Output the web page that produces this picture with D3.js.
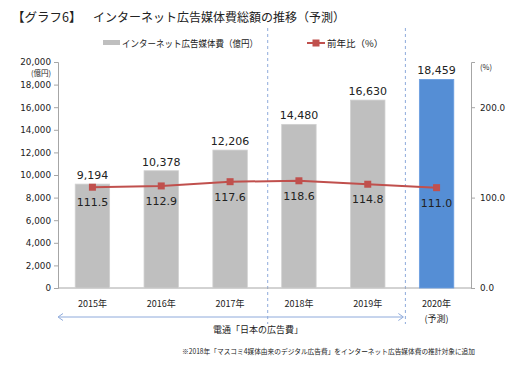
<!DOCTYPE html>
<html>
<head>
<meta charset="utf-8">
<script src="https://cdn.jsdelivr.net/npm/d3@7"></script>
<style>
body { margin: 0; background: #fff; }
text { font-family: "Noto Sans CJK JP", sans-serif; fill: #222; }
.num { font-family: "DejaVu Sans", sans-serif; }
</style>
</head>
<body>
<div id="main"></div>
<script>
var width = 512, height = 366;

var years = ["2015年", "2016年", "2017年", "2018年", "2019年", "2020年"];
var spend = [9194, 10378, 12206, 14480, 16630, 18459];
var ratio = [111.5, 112.9, 117.6, 118.6, 114.8, 111.0];
var leftTicks = [0, 2000, 4000, 6000, 8000, 10000, 12000, 14000, 16000, 18000, 20000];
var rightTicks = [0, 100, 200];

var GRAY = "#bfbfbf", BLUE = "#558ed5", RED = "#c0504d", DASH = "#8eaadb";

var svg = d3.select("#main").append("svg")
  .attr("width", width).attr("height", height);

var x = d3.scaleBand().domain(years).range([58, 471]).paddingInner(0.5).paddingOuter(0.25);
var yL = d3.scaleLinear().domain([0, 20000]).range([288, 62]);
var yR = d3.scaleLinear().domain([0, 250]).range([288, 62]);
var bw = x.bandwidth();

// title
svg.append("text").attr("x", 12).attr("y", 22).style("font-size", "12.5px")
  .text("【グラフ6】");
svg.append("text").attr("x", 93).attr("y", 22).style("font-size", "12px")
  .text("インターネット広告媒体費総額の推移（予測）");

// legend
svg.append("rect").attr("x", 103).attr("y", 40).attr("width", 17).attr("height", 5).attr("fill", GRAY);
svg.append("text").attr("x", 122).attr("y", 46.5).style("font-size", "9.5px")
  .attr("textLength", 136).attr("lengthAdjust", "spacingAndGlyphs")
  .text("インターネット広告媒体費（億円）");
svg.append("line").attr("x1", 307).attr("x2", 325).attr("y1", 43).attr("y2", 43)
  .attr("stroke", RED).attr("stroke-width", 2);
svg.append("rect").attr("x", 312.5).attr("y", 39.5).attr("width", 7).attr("height", 7).attr("fill", RED);
svg.append("text").attr("x", 327).attr("y", 46.5).style("font-size", "9.5px")
  .text("前年比（%）");

// dashed separators
[years[3], years[5]].forEach(function(yr){
  var xx = x(yr) - 14;
  svg.append("line").attr("x1", xx).attr("x2", xx).attr("y1", 28).attr("y2", 324)
    .attr("stroke", DASH).attr("stroke-width", 1).attr("stroke-dasharray", "3,3");
});

// axes
var axL = svg.append("g").attr("transform", "translate(58,0)")
  .call(d3.axisLeft(yL).tickValues(leftTicks).tickSize(4).tickFormat(d3.format(",")));
var axR = svg.append("g").attr("transform", "translate(471,0)")
  .call(d3.axisRight(yR).tickValues(rightTicks).tickSize(4).tickFormat(d3.format(".1f")));
[axL, axR].forEach(function(a){
  a.select(".domain").attr("stroke", "#a6a6a6");
  a.selectAll(".tick line").attr("stroke", "#a6a6a6");
  a.selectAll(".tick text").attr("class", "num").style("font-size", "8.8px").attr("fill", "#222");
});
axL.selectAll(".tick text").attr("x", -7);
axR.selectAll(".tick text").attr("x", 9);
svg.append("line").attr("x1", 58).attr("x2", 471).attr("y1", 288).attr("y2", 288)
  .attr("stroke", "#a6a6a6");

svg.append("text").attr("x", 41).attr("y", 76).attr("text-anchor", "middle").style("font-size", "7.5px")
  .text("(億円)");
svg.append("text").attr("x", 486).attr("y", 70).attr("text-anchor", "middle").style("font-size", "7.5px")
  .text("(%)");

// bars
svg.selectAll(".bar").data(spend).enter().append("rect")
  .attr("class", "bar")
  .attr("x", function(d, i){ return x(years[i]); })
  .attr("y", function(d){ return yL(d); })
  .attr("width", bw)
  .attr("height", function(d){ return 288 - yL(d); })
  .attr("fill", function(d, i){ return i == 5 ? BLUE : GRAY; })
  .attr("stroke", function(d, i){ return i == 5 ? "#6a9de0" : "#d0d0d0"; })
  .attr("stroke-width", 0.8);

svg.selectAll(".blab").data(spend).enter().append("text")
  .attr("class", "num")
  .attr("x", function(d, i){ return x(years[i]) + bw / 2; })
  .attr("y", function(d){ return yL(d) - 5; })
  .attr("text-anchor", "middle").style("font-size", "11px")
  .text(function(d){ return d3.format(",")(d); });

// ratio line
var line = d3.line()
  .x(function(d, i){ return x(years[i]) + bw / 2; })
  .y(function(d){ return yR(d); });
svg.append("path").datum(ratio).attr("d", line)
  .attr("fill", "none").attr("stroke", RED).attr("stroke-width", 2);
svg.selectAll(".pt").data(ratio).enter().append("rect")
  .attr("x", function(d, i){ return x(years[i]) + bw / 2 - 3.5; })
  .attr("y", function(d){ return yR(d) - 3.5; })
  .attr("width", 7).attr("height", 7).attr("fill", RED);
svg.selectAll(".rlab").data(ratio).enter().append("text")
  .attr("class", "num")
  .attr("x", function(d, i){ return x(years[i]) + bw / 2; })
  .attr("y", function(d){ return yR(d) + 19; })
  .attr("text-anchor", "middle").style("font-size", "11px")
  .text(function(d){ return d.toFixed(1); });

// category labels
svg.selectAll(".cat").data(years).enter().append("text")
  .attr("x", function(d){ return x(d) + bw / 2; })
  .attr("y", 307).attr("text-anchor", "middle").style("font-size", "9px")
  .text(function(d){ return d; });
svg.append("text").attr("x", x(years[5]) + bw / 2).attr("y", 322)
  .attr("text-anchor", "middle").style("font-size", "9px").text("(予測)");

// source arrow
var defs = svg.append("defs");
var ax1 = 58, ax2 = x(years[5]) - 16, ay = 317;
svg.append("line").attr("x1", ax1 + 1).attr("x2", ax2 - 1).attr("y1", ay).attr("y2", ay)
  .attr("stroke", DASH).attr("stroke-width", 1);
svg.append("path").attr("d", "M" + (ax1 + 5) + "," + (ay - 3.5) + "L" + ax1 + "," + ay + "L" + (ax1 + 5) + "," + (ay + 3.5))
  .attr("fill", "none").attr("stroke", DASH);
svg.append("path").attr("d", "M" + (ax2 - 5) + "," + (ay - 3.5) + "L" + ax2 + "," + ay + "L" + (ax2 - 5) + "," + (ay + 3.5))
  .attr("fill", "none").attr("stroke", DASH);
svg.append("text").attr("x", 258).attr("y", 333).attr("text-anchor", "middle").style("font-size", "9px")
  .text("電通「日本の広告費」");

svg.append("text").attr("x", 475).attr("y", 354).attr("text-anchor", "end").style("font-size", "7px")
  .attr("textLength", 293).attr("lengthAdjust", "spacingAndGlyphs")
  .text("※2018年「マスコミ4媒体由来のデジタル広告費」をインターネット広告媒体費の推計対象に追加");
</script>
</body>
</html>
